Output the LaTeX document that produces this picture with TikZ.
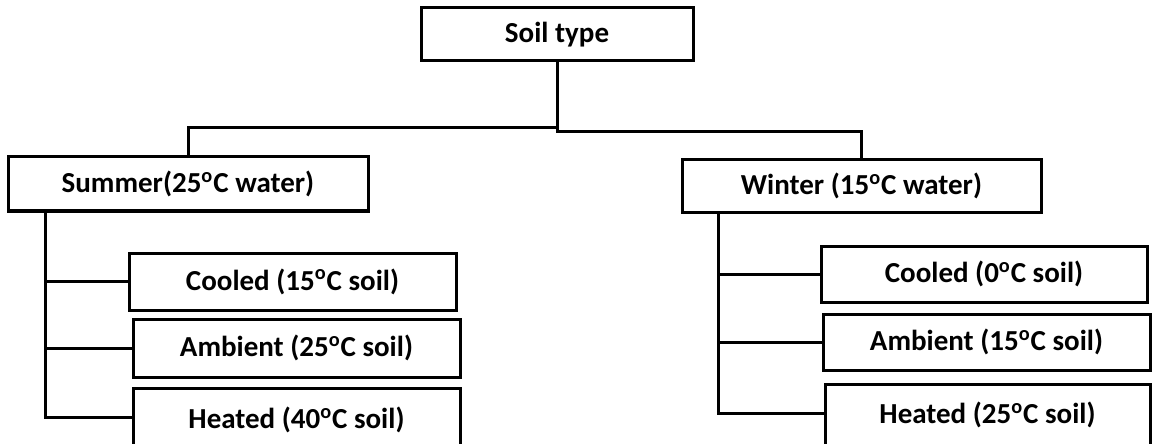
\documentclass[tikz,border=0pt]{standalone}
\usepackage{fontspec}
\setmainfont{Carlito}
\usepackage{tikz}
\usetikzlibrary{arrows,positioning}
\tikzset{font=\fontsize{14.5}{17}\selectfont\bfseries}
\tikzstyle{box}=[draw,rectangle,line width=1.5pt,inner sep=0pt]
\tikzstyle{link}=[line width=1.5pt]
\newcommand{\degC}{\textsuperscript{o}C}

\begin{document}
\begin{tikzpicture}[x=0.5pt,y=-0.5pt]
\useasboundingbox (0,0) rectangle (1152,444);
\node[box,minimum width=136pt,minimum height=26.5pt] (soil) at (557,34.5) {Soil type};
\node[box,minimum width=180pt,minimum height=27pt] (summer) at (188,184) {Summer(25\degC{} water)};
\node[box,minimum width=179.5pt,minimum height=26pt] (winter) at (861.5,186) {Winter (15\degC{} water)};
\node[box,minimum width=163.5pt,minimum height=28.5pt] (cool1) at (292.5,281.5) {Cooled (15\degC{} soil)};
\node[box,minimum width=163.5pt,minimum height=29pt] (amb1) at (296.5,348) {Ambient (25\degC{} soil)};
\node[box,minimum width=163.5pt,minimum height=30pt,text depth=0pt] (heat1) at (296.5,418) {Heated (40\degC{} soil)};
\node[box,minimum width=163pt,minimum height=28pt] (cool2) at (984,274) {Cooled (0\degC{} soil)};
\node[box,minimum width=163.5pt,minimum height=28pt] (amb2) at (986.5,342) {Ambient (15\degC{} soil)};
\node[box,minimum width=162.5pt,minimum height=31pt] (heat2) at (987.5,415) {Heated (25\degC{} soil)};
\coordinate (jl) at (557,128);
\coordinate (jr) at (557,132);
\coordinate (sumtrunk) at (45,211);
\coordinate (wintrunk) at (718,212);
\draw[link] (soil.south) -- (jl) -| (summer.north);
\draw[link] (jl) -- (jr) -| (winter.north);
\draw[link] (sumtrunk) |- ([yshift=0.5pt]heat1.west);
\draw[link] (sumtrunk) |- (cool1.west);
\draw[link] (sumtrunk) |- (amb1.west);
\draw[link] (wintrunk) |- ([yshift=1pt]heat2.west);
\draw[link] (wintrunk) |- (cool2.west);
\draw[link] (wintrunk) |- (amb2.west);
\end{tikzpicture}
\end{document}
